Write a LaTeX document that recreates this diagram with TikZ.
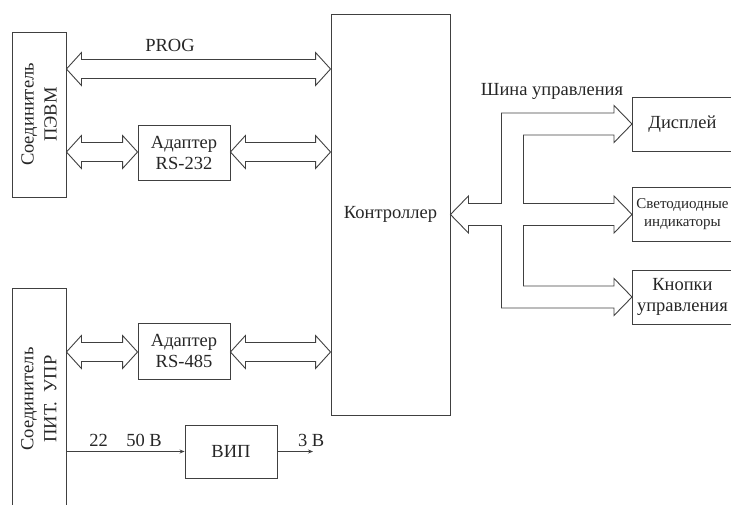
\documentclass[tikz,border=0pt]{standalone}
\usepackage{fontspec}
\setmainfont{Liberation Serif}
\usepackage{tikz}
\usetikzlibrary{arrows.meta,positioning,calc}

% horizontal double (hollow) arrow between two anchors at height #3
\newcommand{\dblarrow}[3]{%
  \draw[busline] let \p1=(#1), \p2=(#2), \p3=(0,#3) in
    (\x1,\y3) -- (\x1+15pt,\y3+16.5pt) -- (\x1+15pt,\y3+9.5pt) -- (\x2-15pt,\y3+9.5pt)
    -- (\x2-15pt,\y3+16.5pt) -- (\x2,\y3) -- (\x2-15pt,\y3-16.5pt) -- (\x2-15pt,\y3-9.5pt)
    -- (\x1+15pt,\y3-9.5pt) -- (\x1+15pt,\y3-16.5pt) -- cycle;}

\begin{document}
\begin{tikzpicture}[
  x=1pt, y=-1pt,
  font=\fontsize{18.5}{21}\selectfont,
  every node/.style={text=black!85},
  block/.style={draw=black!75, line width=0.9pt, align=center, inner sep=2pt},
  conn/.style={block, rotate=90, font=\fontsize{18.5}{23}\selectfont},
  dev/.style={block, minimum width=100pt, minimum height=54pt, anchor=west},
  busline/.style={draw=black!75, line width=0.9pt, line join=miter},
  pwrarr/.style={draw=black!75, line width=0.8pt, -{Stealth[length=5pt,width=4pt]}},
  lbl/.style={inner sep=1pt},
]
\useasboundingbox (0,0) rectangle (731,504);

% connectors on the left (rotated: south is the right side)
\node[conn, minimum width=165pt, minimum height=54pt] (pc) at (39,114.5) {Соединитель\\ПЭВМ};
\node[conn, minimum width=222pt, minimum height=54pt] (pwr) at (39,399) {Соединитель\\ПИТ.~~УПР};

% controller and adapters
\node[block, minimum width=119pt, minimum height=401pt] (ctrl) at (390.5,214.5) {Контроллер};
\node[block, minimum width=92pt, minimum height=55pt] (ad232) at (184,152.5) {Адаптер\\RS-232};
\node[block, minimum width=92pt, minimum height=56pt] (ad485) at (184,351) {Адаптер\\RS-485};
\node[block, minimum width=92pt, minimum height=53pt] (vip) at (231,451.5) {ВИП};

% peripherals
\node[dev] (disp) at (632,124) {Дисплей};
\node[dev, font=\fontsize{15}{18}\selectfont] (led) at (632,214.5) {Светодиодные\\индикаторы};
\node[dev] (btn) at (632,297) {Кнопки\\управления};

% labels
\node[lbl] (prog) at (170,45) {PROG};
\node[lbl] (buslbl) at (552,91) {Шина управления};

% data links
\dblarrow{pc.south}{ctrl.west}{69}
\dblarrow{pc.south}{ad232.west}{152}
\dblarrow{ad232.east}{ctrl.west}{152}
\dblarrow{pwr.south}{ad485.west}{352}
\dblarrow{ad485.east}{ctrl.west}{352}

% control bus
\draw[busline] let \p1=(ctrl.east), \p2=(disp.west), \p3=(led.west), \p4=(btn.west) in
  (\p1) -- ++(18pt,18.5pt) -- ++(0,-7.5pt) -- (\x1+51pt,\y1+11pt) -- (\x1+51pt,\y2+11pt)
  -- (\x2-18pt,\y2+11pt) -- ++(0,7.5pt) -- (\p2) -- ++(-18pt,-18.5pt) -- ++(0,7.5pt)
  -- (\x1+73pt,\y2-11pt) -- (\x1+73pt,\y3+11pt) -- (\x3-18pt,\y3+11pt) -- ++(0,7.5pt)
  -- (\p3) -- ++(-18pt,-18.5pt) -- ++(0,7.5pt) -- (\x1+73pt,\y3-11pt) -- (\x1+73pt,\y4+11pt)
  -- (\x4-18pt,\y4+11pt) -- ++(0,7.5pt) -- (\p4) -- ++(-18pt,-18.5pt) -- ++(0,7.5pt)
  -- (\x1+51pt,\y4-11pt) -- (\x1+51pt,\y1-11pt) -- (\x1+18pt,\y1-11pt) -- ++(0,-7.5pt) -- cycle;

% power
\coordinate (out) at (313,451.5);
\draw[pwrarr] (pwr.south |- vip.west) -- node[lbl, above=3pt] {22\quad 50 В} (vip.west);
\draw[pwrarr] (vip.east) -- node[lbl, above=3pt, pos=0.95] {3 В} (out);
\end{tikzpicture}
\end{document}
